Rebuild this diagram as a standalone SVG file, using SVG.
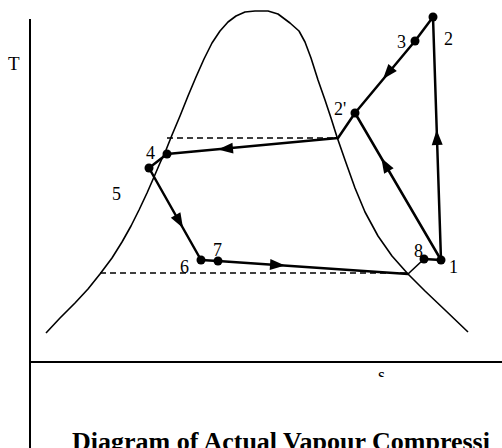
<svg xmlns="http://www.w3.org/2000/svg" xmlns:xlink="http://www.w3.org/1999/xlink" width="502" height="448" viewBox="0 0 502 448">
<style>
.lbl{font-family:"Liberation Serif","Times New Roman",serif;font-size:18px;fill:#000}
.axis{stroke:#000;stroke-width:2;fill:none}
.dome{stroke:#000;stroke-width:1.6;fill:none;stroke-linejoin:round}
.dash{stroke:#000;stroke-width:1.5;stroke-dasharray:6 4;fill:none}
.cyc{stroke:#000;stroke-width:2.5;fill:none;stroke-linejoin:round;stroke-linecap:round}
.thin{stroke:#000;stroke-width:1.6;fill:none}
.dot{fill:#000}
.title{font-family:"Liberation Serif","Times New Roman",serif;font-size:26px;font-weight:bold;fill:#000}
</style>
<defs>
<path id="ah" d="M0,0 L-15,-5.5 L-15,5.5 Z" fill="#000"/>
<clipPath id="sclip"><rect x="360" y="364" width="50" height="13"/></clipPath>
</defs>
<rect width="502" height="448" fill="#fff"/>
<g id="axes">
<line class="axis" x1="30" y1="19" x2="30" y2="448"/>
<line class="axis" x1="30" y1="362" x2="502" y2="362"/>
<text class="lbl" x="8" y="70" style="font-size:19px">T</text>
<text class="lbl" x="378" y="381" clip-path="url(#sclip)">s</text>
</g>
<g id="dome">
<polyline class="dome" points="46,333 60,318 75,303 88,289 100,274 112,258 122,242 131,226 139,210 147,193 154,177 160,163 166,150 172,135 180,116 188,96 196,77 204,59 212,43 220,31 228,22 236,16 245,12 255,11 268,11 278,14 290,23 299,31 305,42 311,58 318,80 325,100 331,118 337,137 345,160 355,188 365,212 378,236 392,256 408,274 425,291 445,310 468,332"/>
</g>
<g id="connectors">
<line class="dash" x1="167" y1="138" x2="338" y2="138"/>
<line class="dash" x1="100" y1="273" x2="408" y2="273"/>
<polyline class="cyc" points="433,17 415,41 355,113 338,138 167,154 149,168 201,260 218,261 408,274"/>
<line class="thin" x1="408" y1="274" x2="424" y2="259"/>
<line class="cyc" x1="424" y1="259" x2="441" y2="260"/>
<line class="cyc" x1="441" y1="260" x2="355" y2="113"/>
<line class="cyc" x1="441" y1="260" x2="433" y2="17"/>
<use xlink:href="#ah" transform="translate(218,149.5) rotate(174.7)"/>
<use xlink:href="#ah" transform="translate(285,265.6) rotate(3.9)"/>
<use xlink:href="#ah" transform="translate(183,228) rotate(60.5)"/>
<use xlink:href="#ah" transform="translate(383,79) rotate(129.8)"/>
<use xlink:href="#ah" transform="translate(381.3,158) rotate(239.7)"/>
<use xlink:href="#ah" transform="translate(436.7,130) rotate(268.1)"/>
</g>
<g id="p2"><circle class="dot" cx="433" cy="17" r="4.5"/><text class="lbl" x="444" y="45">2</text></g>
<g id="p3"><circle class="dot" cx="415" cy="41" r="4.5"/><text class="lbl" x="397" y="48">3</text></g>
<g id="p2prime"><circle class="dot" cx="355" cy="113" r="4.5"/><text class="lbl" x="334" y="115">2'</text></g>
<g id="p4"><circle class="dot" cx="167" cy="154" r="4.5"/><text class="lbl" x="146" y="159">4</text></g>
<g id="p5"><circle class="dot" cx="149" cy="168" r="4.5"/><text class="lbl" x="112" y="200">5</text></g>
<g id="p6"><circle class="dot" cx="201" cy="260" r="4.5"/><text class="lbl" x="180" y="273">6</text></g>
<g id="p7"><circle class="dot" cx="218" cy="261" r="4.5"/><text class="lbl" x="213" y="256">7</text></g>
<g id="p8"><circle class="dot" cx="424" cy="259" r="4.5"/><text class="lbl" x="414" y="257">8</text></g>
<g id="p1"><circle class="dot" cx="441" cy="260" r="4.5"/><text class="lbl" x="449" y="273">1</text></g>
<g id="title"><text class="title" x="72" y="450">Diagram of Actual Vapour Compressi</text></g>
</svg>
